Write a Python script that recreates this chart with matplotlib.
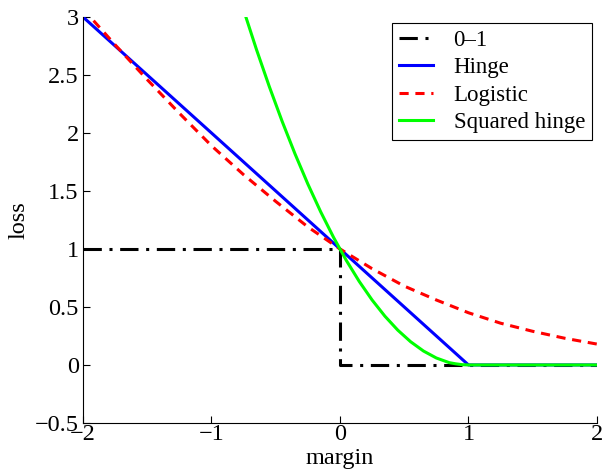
import numpy as np, matplotlib; matplotlib.use('Agg'); import matplotlib.pyplot as plt

plt.rcParams['font.family'] = ['Liberation Serif', 'DejaVu Serif']
plt.rcParams['font.size'] = 17.5

# values
zo_x = [-2, 0, 0, 2]
zo_y = [1, 1, 0, 0]
hinge_x = [-2, 1, 2]
hinge_y = [3, 0, 0]
logi_x = [-2, -1.75, -1.5, -1.25, -1, -0.75, -0.5, -0.25, 0, 0.25, 0.5, 0.75, 1, 1.25, 1.5, 1.75, 2]
logi_y = [3.07, 2.76, 2.46, 2.17, 1.89, 1.64, 1.41, 1.19, 1.0, 0.83, 0.68, 0.56, 0.45, 0.36, 0.29, 0.23, 0.18]
sq_x = [-0.75, -0.7, -0.65, -0.6, -0.55, -0.5, -0.45, -0.4, -0.35, -0.3, -0.25, -0.2, -0.15, -0.1, -0.05,
        0, 0.05, 0.1, 0.15, 0.2, 0.25, 0.3, 0.35, 0.4, 0.45, 0.5, 0.55, 0.6, 0.65, 0.7, 0.75, 0.8, 0.85,
        0.9, 0.95, 1, 2]
sq_y = [3.06, 2.89, 2.72, 2.56, 2.40, 2.25, 2.10, 1.96, 1.82, 1.69, 1.56, 1.44, 1.32, 1.21, 1.10,
        1.0, 0.90, 0.81, 0.72, 0.64, 0.56, 0.49, 0.42, 0.36, 0.30, 0.25, 0.20, 0.16, 0.12, 0.09, 0.06,
        0.04, 0.02, 0.01, 0.0025, 0, 0]
labels = ['0\u20131', 'Hinge', 'Logistic', 'Squared hinge']

fig = plt.figure(figsize=(6.03, 4.71), dpi=100)
ax = fig.add_axes([0.1376, 0.102, 0.8524, 0.862])
ax.plot(zo_x, zo_y, color='k', lw=2.2, ls=(0, (6, 2.5, 1, 2.5)), label=labels[0])
ax.plot(hinge_x, hinge_y, color='#0000ff', lw=2.2, label=labels[1])
ax.plot(logi_x, logi_y, color='#ff0000', lw=2.2, ls=(0, (3, 2.2)), label=labels[2])
ax.plot(sq_x, sq_y, color='#00ff00', lw=2.2, label=labels[3])
ax.set_xlim(-2, 2); ax.set_ylim(-0.5, 3)
ax.set_xticks([-2, -1, 0, 1, 2]); ax.set_yticks(np.arange(-0.5, 3.01, 0.5))
ax.set_xticklabels(['\u22122', '\u22121', '0', '1', '2'])
ax.set_yticklabels(['\u22120.5', '0', '0.5', '1', '1.5', '2', '2.5', '3'])
ax.spines['top'].set_visible(False); ax.spines['right'].set_visible(False)
ax.tick_params(direction='in', length=5, width=0.8)
ax.tick_params(axis='x', pad=1); ax.tick_params(axis='y', pad=3)
ax.set_xlabel('margin', labelpad=2); ax.set_ylabel('loss', labelpad=4)
leg = ax.legend(loc='upper right', bbox_to_anchor=(0.99, 0.985), fancybox=False, edgecolor='k',
                framealpha=1, handlelength=1.5, borderpad=0.3, labelspacing=0.28, handletextpad=0.9,
                borderaxespad=0, fontsize=16.5)
leg.get_frame().set_linewidth(0.8)
fig.savefig('out.png', dpi=100)
print("OK")
